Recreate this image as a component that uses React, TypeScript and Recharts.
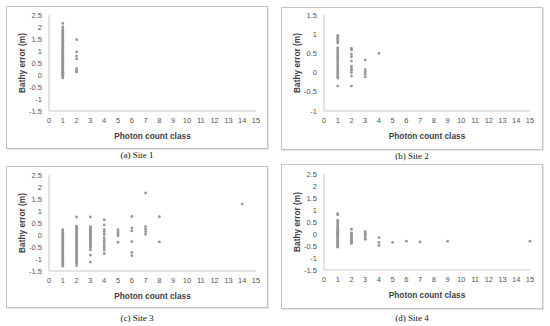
import React from 'react';
import { ScatterChart, Scatter, XAxis, YAxis } from 'recharts';

// ---------- data ----------
const xTicks = [0, 1, 2, 3, 4, 5, 6, 7, 8, 9, 10, 11, 12, 13, 14, 15];
const yTicksWide = [-1.5, -1, -0.5, 0, 0.5, 1, 1.5, 2, 2.5];
const yTicksNarrow = [-1, -0.5, 0, 0.5, 1, 1.5];

type Group = [number, number[]];

const site1: Group[] = [
  [1, [-0.12, -0.08, -0.05, 0, 0.03, 0.07, 0.1, 0.14, 0.18, 0.22, 0.25, 0.3, 0.33, 0.37, 0.4, 0.45, 0.5, 0.53, 0.57, 0.6, 0.65, 0.68, 0.72, 0.75, 0.8, 0.84, 0.88, 0.92, 0.95, 1, 1.05, 1.1, 1.15, 1.2, 1.25, 1.3, 1.35, 1.4, 1.45, 1.5, 1.55, 1.6, 1.65, 1.7, 1.75, 1.8, 1.85, 1.9, 2.0, 2.15]],
  [2, [1.47, 0.96, 0.79, 0.67, 0.26, 0.18, 0.12]],
];

const site2: Group[] = [
  [1, [-0.35, -0.14, -0.1, -0.05, 0, 0.05, 0.1, 0.15, 0.2, 0.25, 0.3, 0.35, 0.4, 0.45, 0.5, 0.55, 0.6, 0.64, 0.77, 0.82, 0.87, 0.92, 0.97]],
  [2, [0.63, 0.59, 0.48, 0.41, 0.3, 0.17, 0.11, 0.06, 0, -0.09, -0.35]],
  [3, [0.33, 0.08, 0.02, -0.04, -0.11]],
  [4, [0.5]],
];

const site3: Group[] = [
  [1, [0.22, 0.17, 0.12, 0.07, 0.02, -0.03, -0.08, -0.13, -0.18, -0.23, -0.28, -0.33, -0.38, -0.43, -0.48, -0.53, -0.58, -0.63, -0.68, -0.73, -0.78, -0.83, -0.88, -0.93, -0.98, -1.03, -1.08, -1.13, -1.18, -1.23, -1.3]],
  [2, [0.75, 0.37, 0.32, 0.27, 0.22, 0.17, 0.12, 0.07, 0.02, -0.03, -0.08, -0.13, -0.18, -0.23, -0.28, -0.33, -0.38, -0.43, -0.48, -0.53, -0.58, -0.63, -0.68, -0.73, -0.78, -0.83, -0.88, -0.93, -0.98, -1.03, -1.08, -1.13, -1.18, -1.27]],
  [3, [0.75, 0.35, 0.3, 0.25, 0.2, 0.15, 0.1, 0.05, 0, -0.05, -0.1, -0.15, -0.2, -0.25, -0.3, -0.35, -0.4, -0.45, -0.52, -0.62, -0.84, -1.13]],
  [4, [0.63, 0.42, 0.22, 0.14, 0.02, -0.12, -0.22, -0.32, -0.42, -0.52, -0.62, -0.77]],
  [5, [0.22, 0.12, 0.05, -0.03, -0.3]],
  [6, [0.77, 0.3, 0.17, -0.28, -0.72, -0.86]],
  [7, [1.75, 0.35, 0.24, 0.14, 0.03]],
  [8, [0.76, -0.29]],
  [14, [1.29]],
];

const site4: Group[] = [
  [1, [0.85, 0.8, 0.57, 0.5, 0.42, 0.34, 0.27, 0.23, 0.19, 0.15, 0.11, 0.07, 0.03, -0.01, -0.05, -0.09, -0.13, -0.17, -0.21, -0.25, -0.29, -0.33, -0.37, -0.41, -0.45, -0.5, -0.55]],
  [2, [0.2, 0.05, 0, -0.05, -0.1, -0.15, -0.2, -0.25, -0.3, -0.35, -0.4]],
  [3, [0.1, 0.05, 0, -0.05, -0.15, -0.22]],
  [4, [-0.15, -0.35, -0.48]],
  [5, [-0.35]],
  [6, [-0.3]],
  [7, [-0.33]],
  [9, [-0.3]],
  [15, [-0.3]],
];

const captions = ['(a) Site 1', '(b) Site 2', '(c) Site 3', '(d) Site 4'];

// ---------- helpers ----------
const toPoints = (groups: Group[]) =>
  groups.flatMap(([c, vals]) => vals.map((v) => ({ x: c, y: v })));

const SANS = '"Liberation Sans", Arial, sans-serif';
const SERIF = '"Liberation Serif", "Times New Roman", serif';

const Dot = (p: any) => <circle cx={p.cx} cy={p.cy} r={1.4} fill="#959595" />;

type PanelProps = {
  frame: { l: number; t: number; w: number; h: number };
  plot: { x0: number; x1: number; y0: number; y1: number };
  yDomain: [number, number];
  yTicks: number[];
  groups: Group[];
  caption: string;
  captionTop: number;
};

const Panel = ({ frame, plot, yDomain, yTicks, groups, caption, captionTop }: PanelProps) => {
  const yAxisWidth = plot.x0 - frame.l;
  const xAxisHeight = frame.t + frame.h - plot.y1;
  const tickStyle = { fontSize: 7.5, fill: '#555', fontFamily: SANS };
  const titleStyle = { fontSize: 8.3, fontWeight: 'bold', fill: '#404040', fontFamily: SANS };
  return (
    <>
      <div
        style={{
          position: 'absolute',
          left: frame.l,
          top: frame.t,
          width: frame.w,
          height: frame.h,
          border: '1px solid #c4c4c4',
          boxSizing: 'border-box',
          boxShadow: '1px 1px 0 #e4e4e4',
        }}
      />
      <div style={{ position: 'absolute', left: frame.l, top: frame.t }}>
        <ScatterChart
          width={frame.w}
          height={frame.h}
          margin={{ top: plot.y0 - frame.t, right: frame.l + frame.w - plot.x1, left: 0, bottom: 0 }}
        >
          <XAxis
            type="number"
            dataKey="x"
            domain={[0, 15]}
            ticks={xTicks}
            interval={0}
            height={xAxisHeight}
            tickLine={false}
            tickSize={4}
            tickMargin={3}
            axisLine={{ stroke: '#c8c8c8' }}
            tick={tickStyle}
            label={{
              value: 'Photon count class',
              position: 'insideBottom',
              offset: xAxisHeight - 28,
              style: titleStyle,
            }}
          />
          <YAxis
            type="number"
            dataKey="y"
            domain={yDomain}
            ticks={yTicks}
            interval={0}
            width={yAxisWidth}
            tickLine={false}
            tickSize={4}
            tickMargin={3}
            axisLine={{ stroke: '#c8c8c8' }}
            tick={tickStyle}
            label={{
              value: 'Bathy error (m)',
              angle: -90,
              position: 'insideLeft',
              offset: 16,
              style: { ...titleStyle, textAnchor: 'middle' },
            }}
          />
          <Scatter data={toPoints(groups)} shape={Dot} isAnimationActive={false} />
        </ScatterChart>
      </div>
      <div
        style={{
          position: 'absolute',
          left: frame.l,
          width: frame.w,
          top: captionTop - 6,
          textAlign: 'center',
          fontFamily: SERIF,
          fontSize: 9,
          lineHeight: '12px',
          color: '#111',
        }}
      >
        {caption}
      </div>
    </>
  );
};

export default function App() {
  return (
    <div
      style={{
        position: 'absolute',
        left: 0,
        top: 0,
        width: 550,
        height: 326,
        background: '#fff',
        overflow: 'hidden',
      }}
    >
      <Panel
        frame={{ l: 6, t: 6, w: 262, h: 143 }}
        plot={{ x0: 49, x1: 256, y0: 15, y1: 111 }}
        yDomain={[-1.5, 2.5]}
        yTicks={yTicksWide}
        groups={site1}
        caption={captions[0]}
        captionTop={155}
      />
      <Panel
        frame={{ l: 281, t: 7, w: 262, h: 143 }}
        plot={{ x0: 324, x1: 530, y0: 15, y1: 111 }}
        yDomain={[-1, 1.5]}
        yTicks={yTicksNarrow}
        groups={site2}
        caption={captions[1]}
        captionTop={156}
      />
      <Panel
        frame={{ l: 6, t: 166, w: 262, h: 142 }}
        plot={{ x0: 49, x1: 256, y0: 175, y1: 271 }}
        yDomain={[-1.5, 2.5]}
        yTicks={yTicksWide}
        groups={site3}
        caption={captions[2]}
        captionTop={318}
      />
      <Panel
        frame={{ l: 281, t: 164, w: 262, h: 145 }}
        plot={{ x0: 324, x1: 530, y0: 174, y1: 270 }}
        yDomain={[-1.5, 2.5]}
        yTicks={yTicksWide}
        groups={site4}
        caption={captions[3]}
        captionTop={318}
      />
    </div>
  );
}
